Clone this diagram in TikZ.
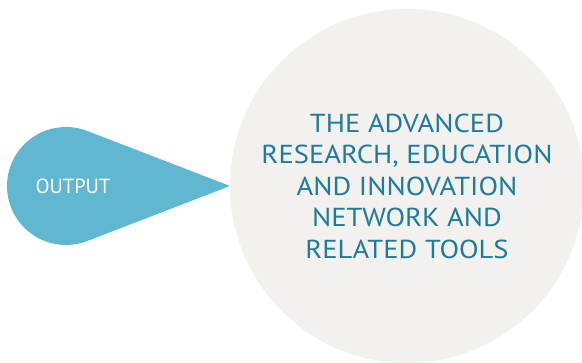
\documentclass[tikz,border=0pt]{standalone}
\usepackage{fontspec}
\setmainfont{PT Sans}
\newfontfamily\widesans[FakeStretch=1.1]{PT Sans}
\usetikzlibrary{calc}
\definecolor{dropblue}{HTML}{5FB8D0}
\definecolor{discgrey}{HTML}{F2F1EE}
\definecolor{textteal}{HTML}{1F7B9B}
\tikzset{
  bigtext/.style={textteal, align=center, font=\widesans\fontsize{26}{31.5}\selectfont},
  droptext/.style={white, font=\fontsize{20.5}{24}\selectfont}
}

\begin{document}
\begin{tikzpicture}[x=1pt,y=1pt]
      \useasboundingbox (0,0) rectangle (582,363);
      \def\r{59};
      \def\cx{66};
      \def\cy{177};
      % big disc on the right
      \fill [discgrey] (407,\cy) circle (177);
      % tear drop pointing at the disc
      \fill [dropblue] (230,\cy) -- ($(\cx,\cy)+(68.9:\r)$)
        arc [start angle=68.9, end angle=291.1, radius=\r] -- cycle;
      \node [droptext] (output) at (73,\cy) {OUTPUT};
      \node [bigtext] (network) at (407,\cy) {THE ADVANCED\\RESEARCH, EDUCATION\\AND INNOVATION\\NETWORK AND\\RELATED TOOLS};
    \end{tikzpicture}
\end{document}
